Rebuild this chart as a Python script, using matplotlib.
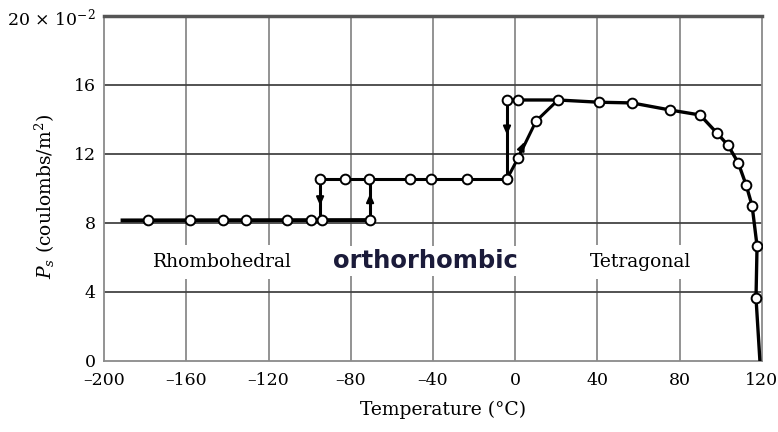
import matplotlib
matplotlib.use("Agg")
import matplotlib.pyplot as plt

# Spontaneous polarisation of BaTiO3 vs temperature (units of 1e-2 C/m^2)
rhombo_T = [-178.6, -158.2, -142.1, -130.9, -111.0, -99.3, -94.0, -70.6]
rhombo_P = [8.15, 8.15, 8.17, 8.17, 8.15, 8.15, 8.15, 8.17]

ortho_T = [-94.9, -82.8, -71.1, -51.2, -41.0, -23.4, -4.0]
ortho_P = [10.55, 10.55, 10.55, 10.55, 10.55, 10.55, 10.55]

heat_T = [1.4, 10.1]
heat_P = [11.77, 13.9]

tetra_T = [-4.0, 1.4, 20.8, 40.8, 56.8, 75.3, 89.9, 98.2, 103.5, 108.4, 112.3, 115.2, 117.6, 117.1]
tetra_P = [15.13, 15.13, 15.13, 15.0, 14.96, 14.55, 14.26, 13.2, 12.5, 11.5, 10.2, 9.0, 6.67, 3.65]

rhombo_line_start = -191.0
curie_T = 119.0

x_ticks = [-200, -160, -120, -80, -40, 0, 40, 80, 120]
x_labels = ["\u2013200", "\u2013160", "\u2013120", "\u201380", "\u201340", "0", "40", "80", "120"]
y_ticks = [0, 4, 8, 12, 16, 20]
y_labels = ["0", "4", "8", "12", "16", "20 \u00d7 10$^{-2}$"]

plt.rcParams["mathtext.fontset"] = "dejavuserif"
serif = "DejaVu Serif"

fig = plt.figure(figsize=(7.78, 4.32), dpi=100)
ax = fig.add_axes([0.1337, 0.1644, 0.9794 - 0.1337, 0.963 - 0.1644])
ax.set_xlim(-200, 120)
ax.set_ylim(0, 20)

# grid
for xv in x_ticks[1:-1]:
    ax.axvline(xv, color="#8a8a8a", lw=1.3, zorder=1)
for yv in y_ticks[1:-1]:
    ax.axhline(yv, color="#444444", lw=1.3, zorder=1)

for side in ["left", "bottom", "right"]:
    ax.spines[side].set_color("#8a8a8a")
    ax.spines[side].set_linewidth(1.3)
ax.spines["top"].set_color("#555555")
ax.spines["top"].set_linewidth(2.5)

lc = "black"
# rhombohedral branch
ax.plot([rhombo_line_start, rhombo_T[-1]], [rhombo_P[0], rhombo_P[-1]], color=lc, lw=2.8, zorder=3)
# orthorhombic branch
ax.plot([ortho_T[0], ortho_T[-1]], [ortho_P[0], ortho_P[-1]], color=lc, lw=2.2, zorder=3)
# transitions
ax.plot([ortho_T[0], ortho_T[0]], [ortho_P[0], rhombo_P[6]], color=lc, lw=2.2, zorder=3)
ax.plot([rhombo_T[-1], rhombo_T[-1]], [rhombo_P[-1], ortho_P[2]], color=lc, lw=2.2, zorder=3)
ax.plot([tetra_T[0], tetra_T[0]], [tetra_P[0], ortho_P[-1]], color=lc, lw=2.2, zorder=3)
# heating into tetragonal
ax.plot([ortho_T[-1]] + heat_T + [tetra_T[2]], [ortho_P[-1]] + heat_P + [tetra_P[2]],
        color=lc, lw=2.2, zorder=3)
# tetragonal branch down to the Curie point
ax.plot(tetra_T + [curie_T], tetra_P + [0.0], color=lc, lw=2.4, zorder=3)

def arrow(x0, y0, x1, y1):
    ax.annotate("", xy=(x1, y1), xytext=(x0, y0),
                arrowprops=dict(arrowstyle="-|>,head_length=0.5,head_width=0.22",
                                color=lc, lw=1.5, shrinkA=0, shrinkB=0), zorder=4)

arrow(ortho_T[0], 9.8, ortho_T[0], 9.0)
arrow(rhombo_T[-1], 8.9, rhombo_T[-1], 9.7)
arrow(tetra_T[0], 14.0, tetra_T[0], 13.1)
arrow(2.0, 12.0, 4.5, 12.7)

mk = dict(marker="o", ms=7, mfc="white", mec="black", mew=1.4, ls="none", zorder=5)
ax.plot(rhombo_T, rhombo_P, **mk)
ax.plot(ortho_T, ortho_P, **mk)
ax.plot(heat_T, heat_P, **mk)
ax.plot(tetra_T, tetra_P, **mk)

box = dict(facecolor="white", edgecolor="none", pad=6)
ax.text(-142.6, 5.74, "Rhombohedral", family=serif, fontsize=13.5, ha="center", va="center",
        bbox=box, zorder=2)
ax.text(60.7, 5.74, "Tetragonal", family=serif, fontsize=13.5, ha="center", va="center",
        bbox=box, zorder=2)
ax.text(-43.9, 5.8, "orthorhombic", family="DejaVu Sans", fontweight="bold", fontsize=17.5,
        color="#1b1b3a", ha="center", va="center",
        bbox=dict(facecolor="white", edgecolor="none", pad=2), zorder=2)

ax.set_xticks(x_ticks)
ax.set_xticklabels(x_labels, family=serif, fontsize=12.5)
ax.set_yticks(y_ticks)
ax.set_yticklabels(y_labels, family=serif, fontsize=12.5)
ax.tick_params(axis="x", length=0, pad=8)
ax.tick_params(axis="y", length=0, pad=6)

ax.set_xlabel("Temperature (\u00b0C)", family=serif, fontsize=13.5)
ax.xaxis.set_label_coords((443 - 104) / 658, -(410 - 361) / 345, transform=ax.transAxes)
ax.xaxis.label.set_va("center")
fig.text(45 / 778, 1 - 197 / 432, r"$P_s$ (coulombs/m$^2$)", family=serif, fontsize=13.5,
         rotation=90, ha="center", va="center")

fig.savefig("out.png", dpi=100)
